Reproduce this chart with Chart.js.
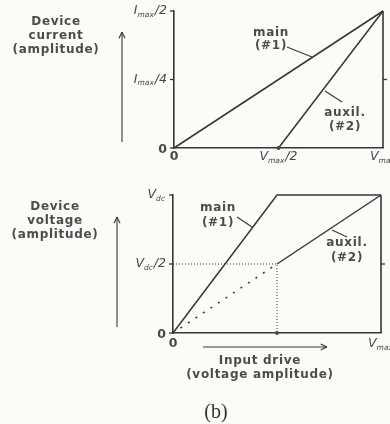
<!DOCTYPE html>
<html>
<head>
<meta charset="utf-8">
<script src="https://cdn.jsdelivr.net/npm/chart.js@4.4.1/dist/chart.umd.min.js"></script>
<style>
  body { margin: 0; width: 390px; height: 424px; overflow: hidden; position: relative;
         background: #fbfbf8; font-family: "DejaVu Sans", sans-serif; color: #4c4c4c; }
  .box { position: absolute; left: 0; width: 390px; }
  .lbl { position: absolute; transform: translate(-50%, -50%); font-size: 12px; font-weight: bold; letter-spacing: 0.7px;
         white-space: nowrap; text-align: center; line-height: 14px; }
</style>
</head>
<body>
<div class="box" style="top:0;height:175px"><canvas id="currentChart"></canvas></div>
<div class="box" style="top:185px;height:239px"><canvas id="voltageChart"></canvas></div>

<div class="lbl" style="left:56px;top:35px">Device<br>current<br>(amplitude)</div>
<div class="lbl" style="left:55px;top:220px">Device<br>voltage<br>(amplitude)</div>
<div class="lbl" style="left:271px;top:39px;line-height:13px">main<br>(#1)</div>
<div class="lbl" style="left:345px;top:119px">auxil.<br>(#2)</div>
<div class="lbl" style="left:218px;top:215px;line-height:15px">main<br>(#1)</div>
<div class="lbl" style="left:347px;top:250px;line-height:15px">auxil.<br>(#2)</div>
<div class="lbl" style="left:260px;top:367px">Input drive<br>(voltage amplitude)</div>
<div class="lbl" style="left:216px;top:411px;font-family:'Liberation Serif',serif;font-size:20px;font-weight:normal;letter-spacing:0;color:#333">(b)</div>

<script>
const ink = '#363636';
const textInk = '#474747';

// x axis: input drive, in units of Vmax
const driveTicks = [0, 0.5, 1];
const currentDriveLabels = [['0'], ['V', 'max', '/2'], ['V', 'max', '']];
const voltageDriveLabels = [['0'], [''], ['V', 'max', '']];

// top chart: device current, in units of Imax
const currentTicks = [0, 0.25, 0.5];
const currentLabels = [['0'], ['I', 'max', '/4'], ['I', 'max', '/2']];
const mainCurrent = [{x: 0, y: 0}, {x: 1, y: 0.5}];
const auxCurrent = [{x: 0.5, y: 0}, {x: 1, y: 0.5}];
const currentEdge = [{x: 1, y: 0}, {x: 1, y: 0.5}];

// bottom chart: device voltage, in units of Vdc
const voltageTicks = [0, 0.5, 1];
const voltageLabels = [['0'], ['V', 'dc', '/2'], ['V', 'dc', '']];
const mainVoltage = [{x: 0, y: 0}, {x: 0.5, y: 1}, {x: 1, y: 1}];
const auxVoltageOff = [{x: 0, y: 0}, {x: 0.5, y: 0.5}];
const auxVoltage = [{x: 0.5, y: 0.5}, {x: 1, y: 1}];
const voltageGuide = [{x: 0, y: 0.5}, {x: 0.5, y: 0.5}, {x: 0.5, y: 0}];
const voltageEdge = [{x: 1, y: 0}, {x: 1, y: 1}];

function seg(ctx, x1, y1, x2, y2) {
    ctx.beginPath();
    ctx.moveTo(x1, y1);
    ctx.lineTo(x2, y2);
    ctx.stroke();
}

function arrow(ctx, x1, y1, x2, y2) {
    seg(ctx, x1, y1, x2, y2);
    const ang = Math.atan2(y2 - y1, x2 - x1);
    const len = 7;
    seg(ctx, x2, y2, x2 - len * Math.cos(ang - 0.45), y2 - len * Math.sin(ang - 0.45));
    seg(ctx, x2, y2, x2 - len * Math.cos(ang + 0.45), y2 - len * Math.sin(ang + 0.45));
}

// draws e.g. I_max/2 with a real subscript
function tickText(ctx, parts, x, y, align) {
    if (!parts[0]) return;
    const big = parts.length > 1 ? 'italic 12.5px "DejaVu Sans"' : 'bold 12.5px "DejaVu Sans"';
    const small = 'italic 7.5px "DejaVu Sans"';
    ctx.font = big;
    const w0 = ctx.measureText(parts[0]).width;
    const w2 = parts.length > 1 ? ctx.measureText(parts[2]).width : 0;
    ctx.font = small;
    const w1 = parts.length > 1 ? ctx.measureText(parts[1]).width + 1 : 0;
    const total = w0 + w1 + w2;
    let sx = align === 'right' ? x - total : x - total / 2;
    ctx.textAlign = 'left';
    ctx.textBaseline = 'middle';
    ctx.font = big;
    ctx.fillText(parts[0], sx, y);
    if (parts.length > 1) {
        ctx.font = small;
        ctx.fillText(parts[1], sx + w0, y + 4);
        ctx.font = big;
        ctx.fillText(parts[2], sx + w0 + w1, y);
    }
}

const decor = {
    id: 'decor',
    afterDraw(chart, args, o) {
        const {ctx, chartArea: a, scales: {x, y}} = chart;
        ctx.save();
        ctx.strokeStyle = ink;
        ctx.fillStyle = textInk;
        ctx.lineWidth = 1.3;
        o.yTicks.forEach((v, i) => {
            const py = y.getPixelForValue(v);
            seg(ctx, a.left - 4, py, a.left, py);
            if (i > 0 && i < o.yTicks.length - 1) seg(ctx, a.right, py, a.right + 4, py);
            const dy = i === 0 ? 2 : 0;
            tickText(ctx, o.yLabels[i], a.left - 7, py + dy, 'right');
        });
        o.xTicks.forEach((v, i) => {
            const px = x.getPixelForValue(v);
            if (i > 0 && i < o.xTicks.length - 1) {
                ctx.beginPath();
                ctx.arc(px, a.bottom, 2, 0, Math.PI * 2);
                ctx.fill();
            }
            tickText(ctx, o.xLabels[i], px, a.bottom + o.xGap, 'center');
        });
        ctx.lineWidth = 1.1;
        o.leaders.forEach(l => seg(ctx, ...l));
        o.arrows.forEach(l => arrow(ctx, ...l));
        ctx.restore();
    }
};

function line(data, dash, width) {
    return {
        data: data,
        borderColor: ink,
        borderWidth: width || 1.5,
        borderDash: dash || [],
        pointRadius: 0,
        tension: 0,
        clip: false
    };
}

function axes(yMax) {
    const common = {
        type: 'linear',
        grid: {display: false, drawTicks: false},
        ticks: {display: false},
        border: {display: true, color: ink, width: 1.6}
    };
    return {
        x: {...common, min: 0, max: 1},
        y: {...common, min: 0, max: yMax}
    };
}

new Chart(document.getElementById('currentChart'), {
    type: 'line',
    data: {
        datasets: [
            line(mainCurrent),
            line(auxCurrent),
            line(currentEdge, [], 1.6)
        ]
    },
    options: {
        responsive: true,
        maintainAspectRatio: false,
        animation: false,
        layout: {padding: {left: 174, right: 7, top: 11, bottom: 27}},
        scales: axes(0.5),
        plugins: {
            legend: {display: false},
            tooltip: {enabled: false},
            decor: {
                yTicks: currentTicks, yLabels: currentLabels,
                xTicks: driveTicks, xLabels: currentDriveLabels, xGap: 9,
                leaders: [[287, 47, 312, 57], [325, 91, 342, 102]],
                arrows: [[122, 142, 122, 32]]
            }
        }
    },
    plugins: [decor]
});

new Chart(document.getElementById('voltageChart'), {
    type: 'line',
    data: {
        datasets: [
            line(mainVoltage),
            line(auxVoltageOff, [2, 7], 1.5),
            line(auxVoltage),
            line(voltageGuide, [1, 2], 1),
            line(voltageEdge, [], 1.6)
        ]
    },
    options: {
        responsive: true,
        maintainAspectRatio: false,
        animation: false,
        layout: {padding: {left: 173, right: 9, top: 10, bottom: 91}},
        scales: axes(1),
        plugins: {
            legend: {display: false},
            tooltip: {enabled: false},
            decor: {
                yTicks: voltageTicks, yLabels: voltageLabels,
                xTicks: driveTicks, xLabels: voltageDriveLabels, xGap: 11,
                leaders: [[237, 32, 252, 42], [332, 45, 347, 52]],
                arrows: [[117, 142, 117, 32], [203, 162, 327, 162]]
            }
        }
    },
    plugins: [decor]
});
</script>
</body>
</html>
